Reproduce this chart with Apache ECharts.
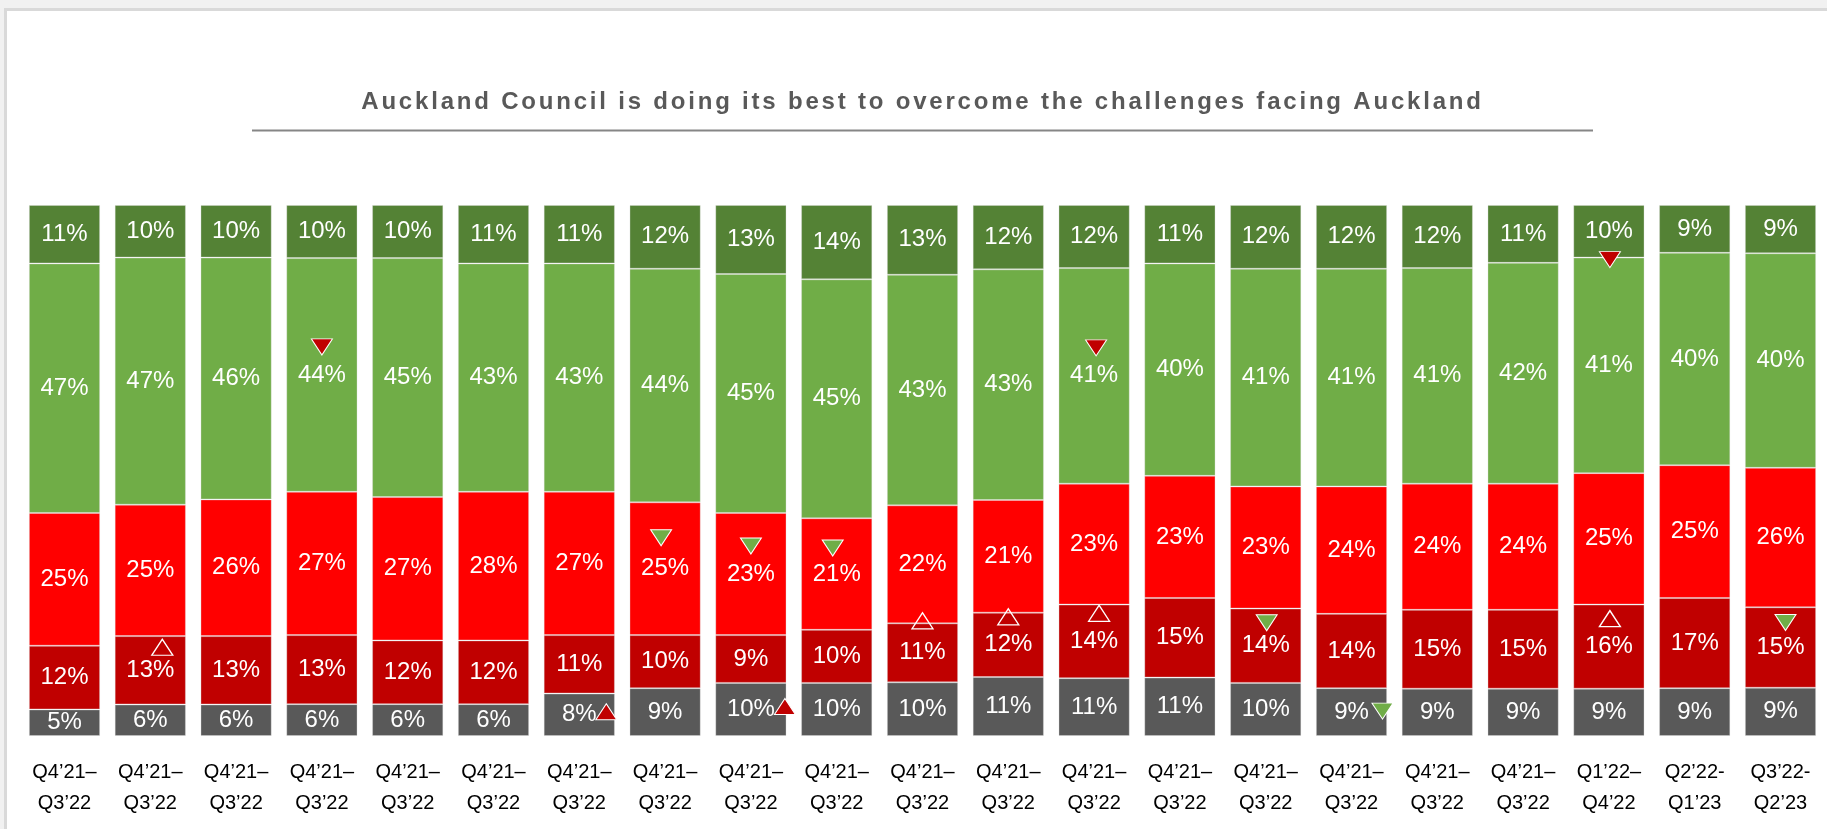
<!DOCTYPE html>
<html>
<head>
<meta charset="utf-8">
<script src="https://cdn.jsdelivr.net/npm/echarts@6/dist/echarts.min.js"></script>
<style>
html,body{margin:0;padding:0;background:#f1f1f1;}
#chart{width:1827px;height:829px;}
</style>
</head>
<body>
<div id="chart"></div>
<script>
// ---- data ----
const categories = [
  "Q4’21–\nQ3’22","Q4’21–\nQ3’22","Q4’21–\nQ3’22","Q4’21–\nQ3’22","Q4’21–\nQ3’22",
  "Q4’21–\nQ3’22","Q4’21–\nQ3’22","Q4’21–\nQ3’22","Q4’21–\nQ3’22","Q4’21–\nQ3’22",
  "Q4’21–\nQ3’22","Q4’21–\nQ3’22","Q4’21–\nQ3’22","Q4’21–\nQ3’22","Q4’21–\nQ3’22",
  "Q4’21–\nQ3’22","Q4’21–\nQ3’22","Q4’21–\nQ3’22","Q1’22–\nQ4’22","Q2’22-\nQ1’23","Q3’22-\nQ2’23"
];
const dontKnow         = [5,6,6,6,6,6,8,9,10,10,10,11,11,11,10,9,9,9,9,9,9];
const stronglyDisagree = [12,13,13,13,12,12,11,10,9,10,11,12,14,15,14,14,15,15,16,17,15];
const disagree         = [25,25,26,27,27,28,27,25,23,21,22,21,23,23,23,24,24,24,25,25,26];
const agree            = [47,47,46,44,45,43,43,44,45,45,43,43,41,40,41,41,41,42,41,40,40];
const stronglyAgree    = [11,10,10,10,10,11,11,12,13,14,13,12,12,11,12,12,12,11,10,9,9];
const titleText = "Auckland Council is doing its best to overcome the challenges facing Auckland";

// significance markers: [category index, segment index (0=bottom), kind]
const sigMarkers = [
  [1,1,'hollowUp'],[3,3,'redDown'],[6,0,'redUp'],[7,2,'greenDown'],[8,2,'greenDown'],
  [8,0,'redUp'],[9,2,'greenDown'],[10,1,'hollowUp'],[11,1,'hollowUp'],[12,3,'redDown'],
  [12,1,'hollowUp'],[14,1,'greenDown'],[15,0,'greenDown'],[18,3,'redDownTop'],
  [18,1,'hollowUp'],[20,1,'greenDown']
];
// layout of marker glyphs relative to their label (pixels)
const sigOffsets = [
  [12,-23],[0,-28],[27,-3],[-4,-31],[0,-28],
  [34,-3],[-4,-26],[0,-32],[0,-28],[2,-28],
  [5,-28],[1,-23],[31,-1],[1,2],
  [1,-28],[5,-25]
];

// ---- build ----
const segs = [dontKnow, stronglyDisagree, disagree, agree, stronglyAgree];
const names = ["Don't know","Strongly disagree","Disagree","Agree","Strongly agree"];
const colors = ['#595959','#C00000','#FF0000','#70AD47','#548235'];
const totals = categories.map((c,i)=>segs.reduce((s,a)=>s+a[i],0));
const norm = segs.map(a=>a.map((v,i)=>v/totals[i]*100));

// letter-spaced title text on canvas
(function(){
  const P = CanvasRenderingContext2D.prototype;
  const orig = P.fillText;
  P.fillText = function(t,x,y,m){
    if (t === titleText && 'letterSpacing' in this) {
      const old = this.letterSpacing;
      this.letterSpacing = '2.8px';
      if (m === undefined) orig.call(this,t,x,y); else orig.call(this,t,x,y,m);
      this.letterSpacing = old;
      return;
    }
    if (m === undefined) return orig.call(this,t,x,y);
    return orig.call(this,t,x,y,m);
  };
})();

const font = "'Liberation Sans', Arial, sans-serif";

const barSeries = segs.map((arr,k)=>({
  name: names[k],
  type: 'bar',
  stack: 'all',
  barCategoryGap: '17%',
  data: arr.map((v,i)=>({value: norm[k][i], raw: v})),
  itemStyle: {color: colors[k], borderColor: 'rgba(220,220,220,0.35)', borderWidth: 1},
  label: {
    show: true, position: 'inside', color: '#fff', fontSize: 24, fontFamily: font,
    formatter: p => p.data.raw + '%'
  },
  emphasis: {disabled: true},
  z: 2
}));

const downPath = 'path://M0,0L20,0L10,16Z';
const upPath = 'path://M10,0L20,16L0,16Z';
const kindStyle = {
  hollowUp:   {symbol: upPath, color: 'rgba(0,0,0,0)', border: '#fff', bw: 1.3},
  redUp:      {symbol: upPath, color: '#C00000', border: '#fff', bw: 1},
  redDown:    {symbol: downPath, color: '#C00000', border: '#fff', bw: 1},
  redDownTop: {symbol: downPath, color: '#C00000', border: '#fff', bw: 1},
  greenDown:  {symbol: downPath, color: '#70AD47', border: '#fff', bw: 1}
};
const markerData = sigMarkers.map((m,j)=>{
  const [ci, si, kind] = m;
  let bottom = 0;
  for (let k=0;k<si;k++) bottom += norm[k][ci];
  const top = bottom + norm[si][ci];
  const y = kind === 'redDownTop' ? top : (bottom+top)/2;
  const st = kindStyle[kind];
  return {
    value: [ci, y],
    symbol: st.symbol,
    symbolSize: [21,16],
    symbolOffset: sigOffsets[j],
    itemStyle: {color: st.color, borderColor: st.border, borderWidth: st.bw, opacity: 1}
  };
});

const chart = echarts.init(document.getElementById('chart'), null, {renderer:'canvas'});
chart.setOption({
  backgroundColor: '#f1f1f1',
  animation: false,
  title: {
    text: titleText,
    left: 917.5, top: 85, textAlign: 'center',
    textStyle: {fontFamily: font, fontWeight: 'bold', fontSize: 24, color: '#595959'}
  },
  graphic: [
    {type:'rect', z:-10, silent:true, shape:{x:5.5,y:9.5,width:1840,height:840},
     style:{fill:'#ffffff', stroke:'#d9d9d9', lineWidth:3}},
    {type:'line', silent:true, shape:{x1:252,y1:130.5,x2:1593,y2:130.5},
     style:{stroke:'#868686', lineWidth:2}}
  ],
  grid: {left: 21.6, right: 3.6, top: 205, bottom: 93, containLabel: false},
  xAxis: {
    type: 'category', data: categories,
    axisLine: {show:false}, axisTick: {show:false}, splitLine:{show:false},
    axisLabel: {color:'#000', fontSize:20, fontFamily: font, lineHeight:31, margin:21, interval:0}
  },
  yAxis: {type:'value', min:0, max:100, show:false},
  series: barSeries.concat([{
    type: 'scatter', data: markerData, z: 10, silent: true,
    itemStyle: {opacity: 1},
    emphasis: {disabled: true}
  }])
});
</script>
</body>
</html>
